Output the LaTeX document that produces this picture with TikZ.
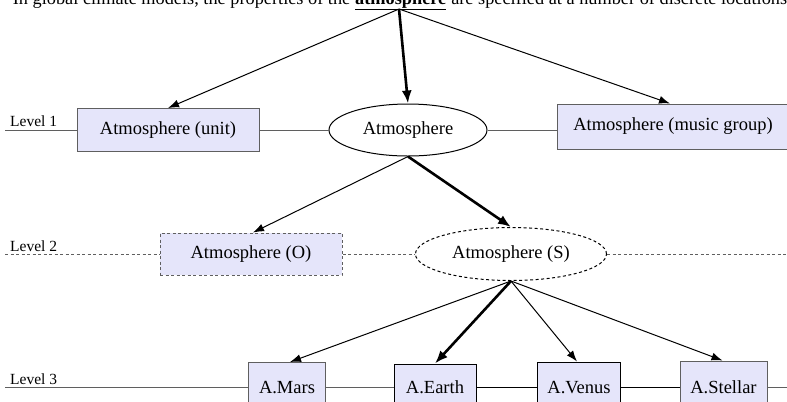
\documentclass[tikz,border=0pt]{standalone}
\usepackage{fontspec}
\setmainfont{Liberation Serif}
\usetikzlibrary{shapes.geometric,arrows.meta}
\definecolor{boxfill}{RGB}{229,229,250}
\definecolor{edgegray}{RGB}{95,95,95}
\begin{document}
\begin{tikzpicture}[x=1bp,y=-1bp,
  every node/.style={font=\fontsize{18.5bp}{21bp}\selectfont},
  sentence/.style={inner sep=0, font=\fontsize{18.3bp}{21bp}\selectfont},
  box/.style={draw=edgegray, fill=boxfill, line width=1bp, inner sep=0, minimum height=43bp},
  dbox/.style={box, dash pattern=on 3bp off 2.5bp},
  oval/.style={ellipse, draw=black, line width=1bp, inner sep=0},
  doval/.style={oval, dash pattern=on 3bp off 2.5bp},
  levellab/.style={font=\fontsize{15.5bp}{17bp}\selectfont, anchor=base west, inner sep=0},
  levelline/.style={draw=edgegray, line width=1bp},
  dlevelline/.style={levelline, dash pattern=on 3bp off 2.5bp},
  thinarr/.style={draw=black, line width=1bp, -{Latex[length=11bp,width=8bp]}},
  thickarr/.style={draw=black, line width=2.6bp, -{Latex[length=13bp,width=10bp]}}
]
\useasboundingbox (0,0) rectangle (787,401);
\clip (0,0) rectangle (787,401);

% top sentence
\node[sentence, anchor=base west] (word) at (355,4) {\underline{\textbf{atmosphere}}};
\node[sentence, anchor=base east] (pre) at (word.base west) {In global climate models, the properties of the\kern4.5bp};
\node[sentence, anchor=base west] (post) at (word.base east) {\kern4.5bp are specified at a number of discrete locations};
\coordinate (apex) at (399,9);

% level 1
\node[box, minimum width=182bp] (unit) at (168,130) {Atmosphere (unit)};
\node[oval, minimum width=158bp, minimum height=52bp] (atm) at (408,130) {Atmosphere};
\node[box, minimum width=232bp, minimum height=45bp] (music) at (673,126.5) {Atmosphere (music group)};
\node[levellab] (lab1) at (10,126) {Level 1};
\coordinate (l1) at (5,130);

% level 2
\node[dbox, minimum width=182bp, minimum height=42bp] (obox) at (251,254) {Atmosphere (O)};
\node[doval, minimum width=191bp, minimum height=53bp] (satm) at (511,254) {Atmosphere (S)};
\node[levellab] (lab2) at (10,251) {Level 2};
\coordinate (l2) at (5,254);
\coordinate (r2) at (787,254);

% level 3
\node[box, minimum width=77bp, minimum height=50bp] (mars) at (287,387.5) {A.Mars};
\node[box, draw=black, minimum width=82bp, minimum height=47bp] (earth) at (435,387.5) {A.Earth};
\node[box, draw=black, minimum width=83bp, minimum height=51bp] (venus) at (579,387.5) {A.Venus};
\node[box, minimum width=87bp, minimum height=53bp] (stellar) at (723.5,387.5) {A.Stellar};
\node[levellab] (lab3) at (10,384) {Level 3};
\coordinate (l3) at (5,387.5);
\coordinate (r3) at (787,387.5);

% level lines
\draw[levelline] (l1) -- (unit.west);
\draw[levelline] (unit.east) -- (atm.west);
\draw[levelline] (atm.east) -- (atm.east -| music.west);
\draw[dlevelline] (l2) -- (obox.west);
\draw[dlevelline] (obox.east) -- (satm.west);
\draw[dlevelline] (satm.east) -- (r2);
\draw[levelline] (l3) -- (mars.west);
\draw[levelline] (mars.east) -- (earth.west);
\draw[levelline, draw=black] (earth.east) -- (venus.west);
\draw[levelline, draw=black] (venus.east) -- (stellar.west);
\draw[levelline] (stellar.east) -- (r3);

% arrows
\draw[thinarr] (apex) -- (unit.north);
\draw[thickarr] (apex) -- (atm.north);
\draw[thinarr] (apex) -- ([xshift=-3bp]music.north);
\draw[thinarr] (atm.south) -- ([xshift=2bp]obox.north);
\draw[thickarr] (atm.south) -- (satm.north);
\draw[thinarr] (satm.south) -- ([xshift=3bp]mars.north);
\draw[thickarr] (satm.south) -- (earth.north);
\draw[thinarr] (satm.south) -- ([xshift=-2bp]venus.north);
\draw[thinarr] (satm.south) -- ([xshift=-1bp]stellar.north);
\end{tikzpicture}
\end{document}
